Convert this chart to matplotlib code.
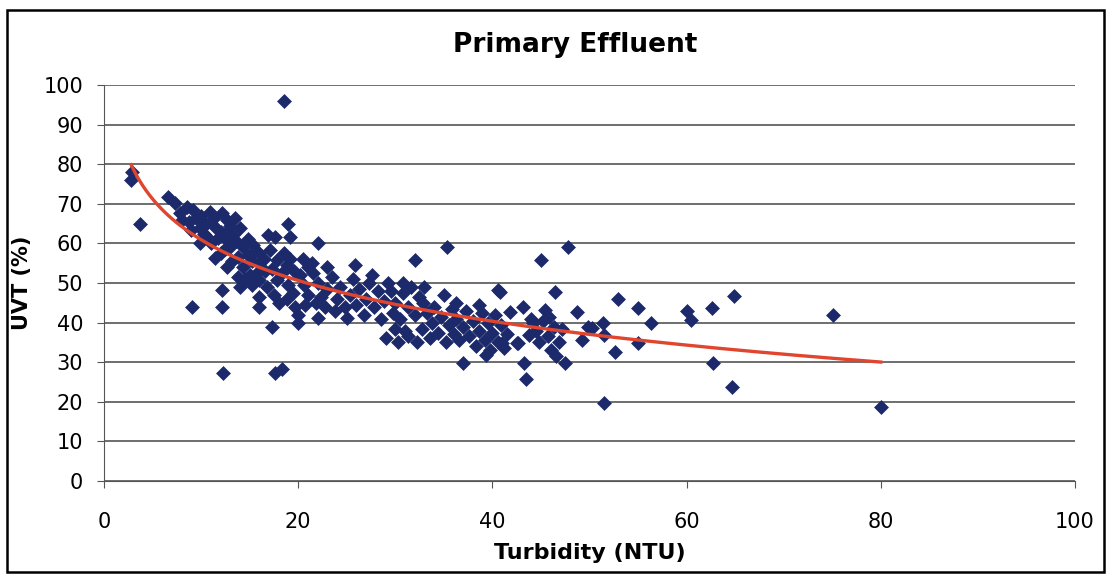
import matplotlib
matplotlib.use("Agg")
import matplotlib.pyplot as plt
import numpy as np
from matplotlib.patches import Rectangle

# turbidity (NTU) and UVT (%)
turbidity = [
    2.8, 2.9, 3.7,
    6.6, 7.3, 7.8, 8.5, 9.2, 8.0, 8.8, 9.5, 9.0, 9.9, 9.9, 10.3, 10.6, 10.5, 10.9, 11.3, 11.7,
    11.5, 12.2, 12.7, 12.0, 12.5, 13.0, 13.3, 14.0, 13.6, 13.0, 14.3, 12.5, 11.4, 12.0, 12.7,
    13.2, 13.8, 14.3, 14.8, 15.2, 15.5, 16.0, 16.0, 16.5, 17.1, 17.8, 17.3, 16.6, 15.8, 15.0,
    14.5, 13.8, 14.0, 15.2, 16.0, 16.8, 17.8, 18.3, 18.8, 19.2, 18.5, 19.6, 19.0, 17.5, 16.0,
    16.0, 18.0, 18.8, 19.5, 19.7, 12.2, 12.2, 9.1, 17.3, 12.3, 17.6, 18.3, 16.9, 17.6, 19.0,
    19.2, 18.5, 11.0, 12.8, 10.0, 13.5, 14.8, 15.3,
    20.0, 20.0, 22.0, 22.0, 21.4, 23.0, 25.8, 27.6, 20.2, 20.6, 21.0, 21.5, 22.0, 22.3, 23.0,
    23.5, 24.0, 24.3, 24.8, 25.0, 25.3, 25.6, 26.0, 26.3, 26.8, 27.0, 27.3, 27.8, 28.2, 28.5,
    28.8, 29.0, 29.2, 21.0, 20.5, 22.8, 23.8, 21.8, 20.7,
    29.6, 30.0, 30.3, 30.5, 30.8, 31.0, 31.3, 31.6, 32.0, 32.2, 32.4, 32.7, 33.0, 32.9, 32.0,
    35.3, 33.3, 33.6, 33.8, 34.0, 34.4, 34.7, 35.0, 35.2, 35.5, 30.0, 31.3, 29.8, 30.8,
    35.8, 36.0, 36.3, 36.6, 37.0, 37.0, 37.3, 37.6, 38.0, 38.3, 38.6, 38.9, 39.2, 39.5, 39.8,
    40.0, 40.3, 40.6, 40.6, 40.9, 41.2, 41.5, 41.8, 41.0, 42.5, 40.8, 36.2, 38.6, 39.3,
    43.2, 43.3, 43.5, 42.6, 45.0, 45.4, 44.5, 44.8, 45.2, 45.7, 46.0, 46.3, 46.5, 46.9, 47.2,
    47.5, 46.4, 47.8, 48.7, 44.0, 43.8, 44.2, 45.8,
    49.2, 49.8, 50.3, 51.4, 51.5, 51.5, 52.6, 52.9, 55.0, 55.0, 56.3, 60.0, 60.5, 62.6, 62.7,
    64.7, 64.9, 75.1, 80.0,
]
uvt = [
    76.0, 78.0, 65.0,
    71.7, 70.2, 67.7, 69.2, 68.4, 66.0, 65.5, 66.5, 63.5, 64.0, 60.0, 62.5, 61.6, 65.0, 68.0, 66.5, 61.3,
    64.0, 67.7, 66.0, 63.0, 62.5, 64.5, 62.0, 64.0, 60.5, 59.0, 59.0, 58.5, 56.3, 57.5, 54.0,
    55.5, 56.5, 54.0, 57.0, 55.5, 58.0, 57.5, 55.0, 56.0, 58.3, 55.8, 53.5, 53.0, 52.5, 52.0,
    51.0, 51.5, 49.0, 49.5, 50.8, 49.0, 50.8, 52.5, 54.5, 56.0, 57.5, 53.0, 49.5, 47.0, 46.5,
    44.0, 45.0, 46.0, 47.5, 44.0, 48.2, 44.0, 44.0, 38.9, 27.3, 27.3, 28.2, 62.0, 61.6, 65.0,
    61.6, 96.0, 60.0, 60.5, 67.0, 66.5, 61.0, 59.5,
    42.0, 40.0, 41.2, 60.0, 55.0, 54.0, 54.5, 52.0, 52.0, 49.5, 47.0, 52.5, 50.0, 46.5, 48.5,
    51.5, 46.0, 49.0, 44.0, 41.2, 47.0, 51.0, 44.5, 48.5, 42.0, 46.0, 50.0, 44.0, 48.0, 41.0,
    45.5, 36.0, 50.0, 54.0, 56.0, 44.0, 43.0, 45.0, 44.5,
    48.0, 45.0, 35.0, 41.0, 47.5, 38.0, 44.0, 49.0, 42.0, 35.0, 46.5, 38.5, 49.0, 45.0, 55.8,
    59.0, 42.5, 36.0, 40.0, 44.0, 37.5, 41.5, 47.0, 35.0, 39.5, 38.5, 36.5, 42.5, 50.0,
    43.5, 37.0, 41.0, 35.5, 39.0, 29.8, 43.0, 36.5, 40.5, 34.0, 38.0, 42.5, 35.5, 40.0, 33.0,
    37.5, 42.0, 48.2, 35.0, 39.5, 33.5, 37.0, 42.7, 34.8, 34.8, 47.8, 45.0, 44.5, 31.8,
    44.0, 29.8, 25.7, 34.8, 55.8, 43.2, 38.0, 35.0, 40.5, 36.5, 33.0, 39.0, 31.5, 35.0, 38.5,
    29.8, 47.8, 59.0, 42.7, 41.0, 36.8, 40.0, 41.5,
    35.6, 38.9, 38.6, 40.0, 36.9, 19.7, 32.6, 46.0, 43.7, 34.8, 39.9, 42.9, 40.7, 43.7, 29.8,
    23.7, 46.7, 41.9, 18.7,
]

MARKER_COLOR = "#1c2a6b"
TREND_COLOR = "#e0452e"
GRID_COLOR = "#555555"

x = np.array(turbidity)
y = np.array(uvt)

# logarithmic trendline, like the spreadsheet one
slope, intercept = np.polyfit(np.log(x), y, 1)
x_fit = np.linspace(x.min(), x.max(), 200)
y_fit = slope * np.log(x_fit) + intercept

fig = plt.figure(figsize=(11.12, 5.81), dpi=100)
ax = fig.add_axes([104 / 1112, 1 - 481 / 581, (1075 - 104) / 1112, (481 - 85) / 581])

ax.grid(visible=True, axis="y", color=GRID_COLOR, linewidth=1.2, zorder=0)
ax.scatter(x, y, marker="D", s=50, color=MARKER_COLOR, edgecolors=MARKER_COLOR, linewidths=0.5, zorder=3)
ax.plot(x_fit, y_fit, color=TREND_COLOR, linewidth=2.4, zorder=4)

ax.set_xlim(0, 100)
ax.set_ylim(0, 100)
ax.set_xticks(np.arange(0, 101, 20))
ax.set_yticks(np.arange(0, 101, 10))
for side in ("top", "right"):
    ax.spines[side].set_visible(False)
ax.spines["left"].set_color(GRID_COLOR)
ax.spines["bottom"].set_color(GRID_COLOR)
ax.tick_params(axis="both", labelsize=15, color=GRID_COLOR, length=5, direction="out")
ax.tick_params(axis="x", pad=17)
ax.tick_params(axis="y", pad=10)

ax.set_xlabel("Turbidity (NTU)", fontsize=16, fontweight="bold", labelpad=8)
ax.set_ylabel("UVT (%)", fontsize=15, fontweight="bold", labelpad=8)
fig.text(575 / 1112, 1 - 45 / 581, "Primary Effluent", ha="center", va="center",
         fontsize=19, fontweight="bold")

# chart border
fig.patches.append(Rectangle((7 / 1112, 1 - 572 / 581), (1104 - 7) / 1112, (572 - 10) / 581,
                             transform=fig.transFigure, fill=False, edgecolor="black", linewidth=1.8))

fig.savefig("out.png", dpi=100)
